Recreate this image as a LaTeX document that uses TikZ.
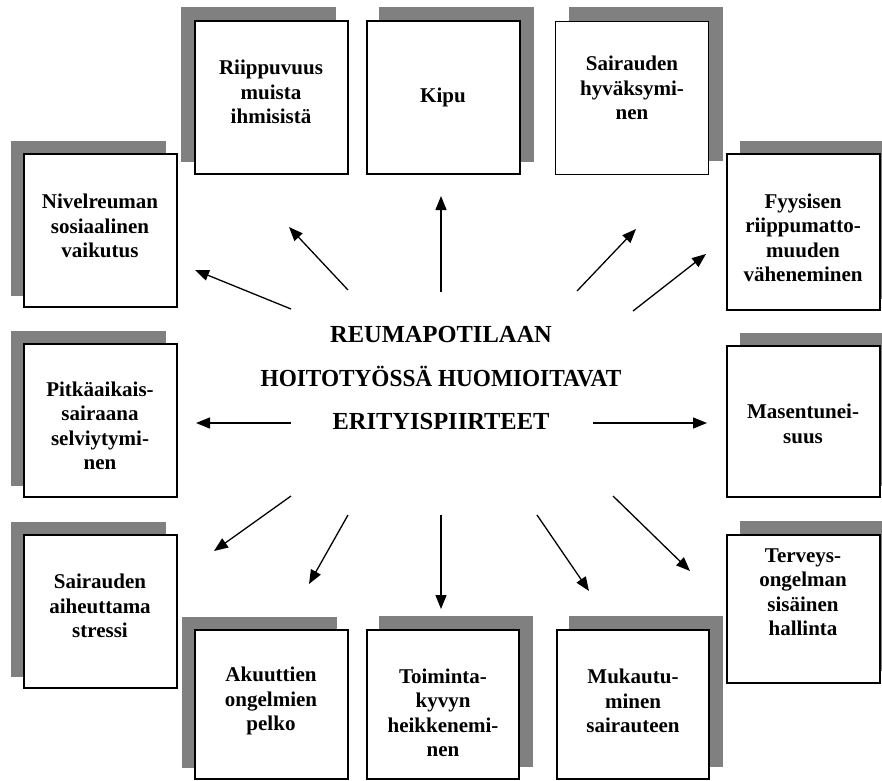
\documentclass[tikz,border=0pt]{standalone}
\usepackage{fontspec}
\setmainfont{Liberation Serif}
\usetikzlibrary{arrows.meta,backgrounds}
\newcommand\myshadow[3]{\fill[shd] ([shift={(#2,#3)}]#1.north west) rectangle ([shift={(#2,#3)}]#1.south east);}
\begin{document}
\begin{tikzpicture}[x=1pt,y=-1pt,
 box/.style={draw=black,line width=1.1pt,fill=white,minimum width=153pt,minimum height=153pt,inner sep=0pt},
 txt/.style={align=center,font=\fontsize{21}{24.5}\selectfont\bfseries,inner sep=0pt},
 ctext/.style={align=center,font=\fontsize{24.5}{43.5}\selectfont\bfseries,inner sep=0pt},
 arr/.style={line width=1.3pt,-{Triangle[length=14pt,width=11pt]}},
 shd/.style={fill=black!50}]
\useasboundingbox (0,0) rectangle (882,780);
\clip (0,0) rectangle (882,780);

% boxes
\node[box] (b1) at (271.5,97.5) {};
\node[box] (b2) at (443.5,97.5) {};
\node[box] (b3) at (632,98) {};
\node[box] (b4) at (100.5,230.5) {};
\node[box,minimum height=156pt] (b5) at (803.5,232) {};
\node[box,minimum height=151pt] (b6) at (803.5,421.5) {};
\node[box,minimum height=148pt] (b7) at (803.5,609) {};
\node[box] (b8) at (100.5,420.5) {};
\node[box] (b9) at (100.5,611.5) {};
\node[box,minimum height=149pt] (b10) at (271.5,704.5) {};
\node[box,minimum height=149pt,minimum width=152pt] (b11) at (443,704.5) {};
\node[box,minimum height=149pt,minimum width=152pt] (b12) at (633,704.5) {};

\begin{scope}[on background layer]
\myshadow{b1}{-13}{-13}
\myshadow{b2}{13}{-13}
\myshadow{b3}{14}{-14}
\myshadow{b4}{-12}{-12}
\myshadow{b5}{14}{-12}
\myshadow{b6}{14}{-12}
\myshadow{b7}{14}{-13}
\myshadow{b8}{-12}{-12}
\myshadow{b9}{-12}{-12}
\myshadow{b10}{-12}{-12}
\myshadow{b11}{13}{-13}
\myshadow{b12}{13}{-13}
\end{scope}

% texts
\node[txt] (t1) at (271,92) {Riippuvuus\\muista\\ihmisistä};
\node[txt] (t2) at (443,97) {Kipu};
\node[txt] (t3) at (632,88) {Sairauden\\hyväksymi-\\nen};
\node[txt] (t4) at (100,226) {Nivelreuman\\sosiaalinen\\vaikutus};
\node[txt] (t5) at (803,238) {Fyysisen\\riippumatto-\\muuden\\väheneminen};
\node[txt] (t6) at (803,424) {Masentunei-\\suus};
\node[txt] (t7) at (803,592) {Terveys-\\ongelman\\sisäinen\\hallinta};
\node[txt] (t8) at (100,426) {Pitkäaikais-\\sairaana\\selviytymi-\\nen};
\node[txt] (t9) at (100,606) {Sairauden\\aiheuttama\\stressi};
\node[txt] (t10) at (271,701) {Akuuttien\\ongelmien\\pelko};
\node[txt] (t11) at (443,713) {Toiminta-\\kyvyn\\heikkenemi-\\nen};
\node[txt] (t12) at (633,701) {Mukautu-\\minen\\sairauteen};

\node[ctext] (c) at (441,378) {REUMAPOTILAAN\\\scalebox{0.95}[1]{HOITOTYÖSSÄ HUOMIOITAVAT}\\ERITYISPIIRTEET};

% arrow coordinates
\coordinate (s1) at (291,309);  \coordinate (e1) at (195,270);
\coordinate (s2) at (348,290);  \coordinate (e2) at (289,227);
\coordinate (s3) at (441,292);  \coordinate (e3) at (441,196);
\coordinate (s4) at (577,291);  \coordinate (e4) at (636,229);
\coordinate (s5) at (633,311);  \coordinate (e5) at (706,254);
\coordinate (s6) at (291,423);  \coordinate (e6) at (196,423);
\coordinate (s7) at (593,423);  \coordinate (e7) at (707,423);
\coordinate (s8) at (291,496);  \coordinate (e8) at (214,551);
\coordinate (s9) at (348,515);  \coordinate (e9) at (309,584);
\coordinate (s10) at (441,515); \coordinate (e10) at (441,609);
\coordinate (s11) at (537,515); \coordinate (e11) at (589,591);
\coordinate (s12) at (613,496); \coordinate (e12) at (690,571);
\foreach \i in {1,...,12} {\draw[arr] (s\i) -- (e\i);}
\end{tikzpicture}
\end{document}
